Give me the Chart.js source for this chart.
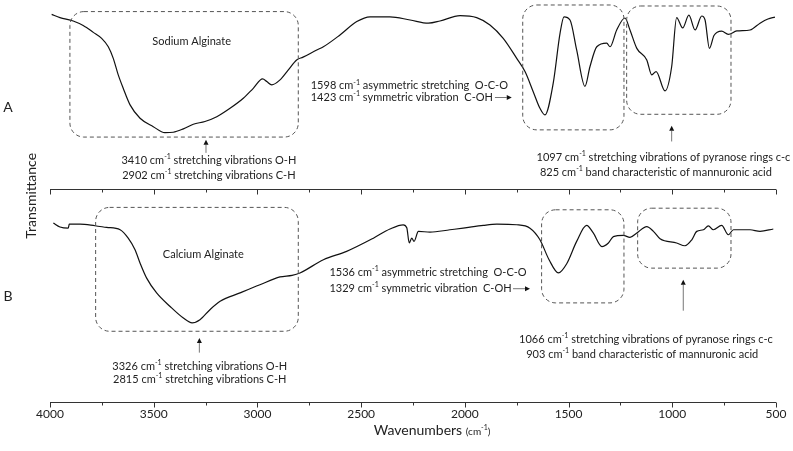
<!DOCTYPE html>
<html>
<head>
<meta charset="utf-8">
<title>FTIR spectra of sodium and calcium alginate</title>
<script src="https://cdn.jsdelivr.net/npm/chart.js@4.4.1/dist/chart.umd.min.js"></script>
<style>
  body { margin: 0; background: #fff; }
  #wrap { width: 793px; height: 451px; }
</style>
</head>
<body>
<div id="wrap"><canvas id="ftirChart" width="793" height="451"></canvas></div>
<script>
// Spectrum A: sodium alginate (wavenumber cm-1, transmittance, arbitrary offset units)
const sodiumWavenumbers = [3992, 3952, 3888, 3840, 3791, 3751, 3719, 3695, 3671, 3647,
  3614, 3566, 3502, 3446, 3406, 3357, 3309, 3253, 3196, 3132,
  3068, 3020, 2975, 2955, 2931, 2891, 2851, 2811, 2780, 2714,
  2682, 2602, 2521, 2457, 2361, 2264, 2176, 2120, 2023, 1943,
  1879, 1815, 1750, 1710, 1670, 1638, 1614, 1574, 1541, 1522,
  1493, 1461, 1421, 1397, 1364, 1316, 1300, 1268, 1228, 1204,
  1171, 1123, 1099, 1078, 1035, 1003, 979, 950, 920, 890,
  858, 842, 821, 799, 762, 730, 689, 625, 577, 539, 505];
const sodiumTransmittance = [96.4, 95.6, 94.75, 93.6, 91.9, 90.4, 88.3, 85.4, 81.25, 77.9,
  73.75, 70.4, 68.3, 66.8, 66.9, 67.75, 68.9, 69.6, 70.8, 72.9,
  75.4, 77.9, 80.25, 79.6, 78.75, 80, 82.5, 85, 85.7, 87.5,
  88.3, 91.25, 94.6, 95.8, 95.8, 95, 94.2, 94.75, 96.1, 95.6,
  93.75, 90.4, 85.4, 82.1, 77, 72.9, 71.25, 79.2, 91.7, 95.8,
  95, 87.5, 78.4, 83.3, 88.3, 89.2, 88.3, 92.5, 95.5, 92.5,
  87.9, 85, 81.25, 82.1, 77.25, 83.3, 95.6, 93, 96.2, 92.5,
  96, 95, 87.9, 91.1, 92.2, 91.4, 92.25, 92.5, 94.2, 95.25, 95.7];

// Spectrum B: calcium alginate
const calciumWavenumbers = [3984, 3952, 3912, 3907, 3855, 3783, 3727, 3662, 3623, 3590,
  3566, 3534, 3486, 3421, 3357, 3315, 3277, 3229, 3180, 3084,
  2988, 2891, 2833, 2795, 2682, 2570, 2441, 2361, 2297, 2280,
  2268, 2256, 2245, 2224, 2168, 2072, 2008, 1911, 1846, 1750,
  1686, 1638, 1594, 1549, 1509, 1461, 1413, 1381, 1339, 1308,
  1284, 1236, 1204, 1171, 1123, 1091, 1059, 979, 939, 906,
  882, 850, 826, 802, 762, 730, 705, 625, 577, 513];
const calciumTransmittance = [44.2, 43.2, 42.9, 43.9, 43.9, 43.5, 43.1, 42.5, 40.4, 37.5,
  34.2, 30.4, 26.7, 23.3, 20.4, 19.2, 20, 22.5, 24.6, 26.7,
  28.75, 30.7, 31.1, 31.7, 35, 37.1, 40.4, 42.7, 43.75, 43,
  39.2, 40.4, 39.6, 42.1, 41.9, 42.5, 42.9, 43.6, 43.9, 43.75,
  42.9, 40, 35, 31.7, 34, 39.6, 43.6, 41.7, 38.3, 39.2,
  40.8, 41.1, 40.6, 41.7, 43.3, 42.1, 40.25, 39.2, 38.5, 40,
  42.1, 42.5, 43.5, 42.5, 43.6, 41.25, 42.5, 42.5, 42.1, 42.7];

// labelled ticks on the wavenumber axis (minor ticks every 250)
const xTickLabels = [4000, 3500, 3000, 2500, 2000, 1500, 1000, 500];

// annotations, all in data units (wavenumber, transmittance)
const middleAxisValue = 52.75;
const bandBoxes = [
  { from: 3904, to: 2803, top: 97.1, bottom: 65.7 },
  { from: 1721, to: 1233, top: 98.75, bottom: 67.5 },
  { from: 1220, to: 717, top: 98.5, bottom: 71.4 },
  { from: 3780, to: 2803, top: 48.1, bottom: 17.1 },
  { from: 1630, to: 1233, top: 47.5, bottom: 24.2 },
  { from: 1167, to: 717, top: 47.9, bottom: 32.9 }
];
const noteLines = [
  { text: 'Sodium Alginate', x: 3317, y: 89.6, align: 'center' },
  { text: '3410 cm-1 stretching vibrations O-H', x: 3234, y: 59.75, align: 'center' },
  { text: '2902 cm-1 stretching vibrations C-H', x: 3234, y: 56.1, align: 'center' },
  { text: '1598 cm-1 asymmetric stretching  O-C-O', x: 2743, y: 78.5, align: 'left' },
  { text: '1423 cm-1 symmetric vibration  C-OH', x: 2743, y: 75.6, align: 'left' },
  { text: '1097 cm-1 stretching vibrations of pyranose rings c-c', x: 1043, y: 60.5, align: 'center' },
  { text: '825 cm-1 band characteristic of mannuronic acid', x: 1079, y: 56.9, align: 'center' },
  { text: 'Calcium Alginate', x: 3261, y: 36.4, align: 'center' },
  { text: '3326 cm-1 stretching vibrations O-H', x: 3278, y: 8.3, align: 'center' },
  { text: '2815 cm-1 stretching vibrations C-H', x: 3278, y: 5, align: 'center' },
  { text: '1536 cm-1 asymmetric stretching  O-C-O', x: 2653, y: 31.8, align: 'left' },
  { text: '1329 cm-1 symmetric vibration  C-OH', x: 2653, y: 27.75, align: 'left' },
  { text: '1066 cm-1 stretching vibrations of pyranose rings c-c', x: 1127, y: 15, align: 'center' },
  { text: '903 cm-1 band characteristic of mannuronic acid', x: 1145, y: 11.25, align: 'center' }
];
const noteArrows = [
  { x1: 3248, y1: 61.75, x2: 3248, y2: 65 },
  { x1: 1855, y1: 75.6, x2: 1774, y2: 75.6 },
  { x1: 1003, y1: 64.6, x2: 1003, y2: 68.5 },
  { x1: 3280, y1: 11.75, x2: 3280, y2: 15.4 },
  { x1: 1768, y1: 27.75, x2: 1686, y2: 27.75 },
  { x1: 947, y1: 22.25, x2: 947, y2: 30 }
];
const panelLabels = [
  { text: 'A', x: 4202, y: 73 },
  { text: 'B', x: 4202, y: 25.75 }
];

const FONT = 'Lato, "Open Sans", sans-serif';

function toPoints(xs, ys) {
  return xs.map((w, i) => ({ x: w, y: ys[i] }));
}

// text with "cm-1" drawn as cm plus a superscript -1
function drawNote(ctx, text, x, y, align, size) {
  const segs = [];
  const parts = text.split('cm-1');
  parts.forEach((p, i) => {
    if (p) segs.push({ t: p, sup: false });
    if (i < parts.length - 1) {
      segs.push({ t: 'cm', sup: false });
      segs.push({ t: '-1', sup: true });
    }
  });
  const supSize = Math.round(size * 0.65);
  let total = 0;
  segs.forEach(s => {
    ctx.font = (s.sup ? supSize : size) + 'px ' + FONT;
    s.w = ctx.measureText(s.t).width;
    total += s.w;
  });
  let cx = align === 'center' ? x - total / 2 : x;
  ctx.textAlign = 'left';
  ctx.textBaseline = 'middle';
  segs.forEach(s => {
    ctx.font = (s.sup ? supSize : size) + 'px ' + FONT;
    ctx.fillText(s.t, cx, s.sup ? y - size * 0.33 : y);
    cx += s.w;
  });
}

function roundBox(ctx, x1, y1, x2, y2, r) {
  const l = Math.min(x1, x2), rt = Math.max(x1, x2);
  const t = Math.min(y1, y2), b = Math.max(y1, y2);
  ctx.beginPath();
  ctx.moveTo(l + r, t);
  ctx.lineTo(rt - r, t);
  ctx.arcTo(rt, t, rt, t + r, r);
  ctx.lineTo(rt, b - r);
  ctx.arcTo(rt, b, rt - r, b, r);
  ctx.lineTo(l + r, b);
  ctx.arcTo(l, b, l, b - r, r);
  ctx.lineTo(l, t + r);
  ctx.arcTo(l, t, l + r, t, r);
  ctx.closePath();
  ctx.stroke();
}

function drawArrow(ctx, x1, y1, x2, y2) {
  const ang = Math.atan2(y2 - y1, x2 - x1);
  const head = 5;
  ctx.strokeStyle = '#777';
  ctx.lineWidth = 1;
  ctx.beginPath();
  ctx.moveTo(x1, y1);
  ctx.lineTo(x2 - Math.cos(ang) * head, y2 - Math.sin(ang) * head);
  ctx.stroke();
  ctx.fillStyle = '#111';
  ctx.beginPath();
  ctx.moveTo(x2, y2);
  ctx.lineTo(x2 - Math.cos(ang) * head - Math.sin(ang) * 2.5, y2 - Math.sin(ang) * head + Math.cos(ang) * 2.5);
  ctx.lineTo(x2 - Math.cos(ang) * head + Math.sin(ang) * 2.5, y2 - Math.sin(ang) * head - Math.cos(ang) * 2.5);
  ctx.closePath();
  ctx.fill();
}

function drawTicks(ctx, xScale, yPix) {
  ctx.strokeStyle = '#333';
  ctx.lineWidth = 1;
  ctx.beginPath();
  ctx.moveTo(xScale.left, yPix);
  ctx.lineTo(xScale.right, yPix);
  xScale.ticks.forEach(t => {
    const px = Math.round(xScale.getPixelForValue(t.value)) + 0.5;
    const len = xTickLabels.includes(t.value) ? 5 : 3;
    ctx.moveTo(px, yPix);
    ctx.lineTo(px, yPix + len);
  });
  ctx.stroke();
}

const ftirAnnotations = {
  id: 'ftirAnnotations',
  afterDraw(chart) {
    const { ctx, chartArea, scales: { x, y } } = chart;
    ctx.save();

    // axis between the two spectra and the bottom axis, same tick layout
    drawTicks(ctx, x, Math.round(y.getPixelForValue(middleAxisValue)) + 0.5);
    drawTicks(ctx, x, Math.round(chartArea.bottom) + 0.5);

    // dashed band boxes
    ctx.strokeStyle = '#555';
    ctx.lineWidth = 1;
    ctx.setLineDash([4, 3]);
    bandBoxes.forEach(b => {
      roundBox(ctx, x.getPixelForValue(b.from), y.getPixelForValue(b.top),
        x.getPixelForValue(b.to), y.getPixelForValue(b.bottom), 14);
    });
    ctx.setLineDash([]);

    // notes
    ctx.fillStyle = '#222';
    noteLines.forEach(n => {
      drawNote(ctx, n.text, x.getPixelForValue(n.x), y.getPixelForValue(n.y), n.align, 11);
    });
    noteArrows.forEach(a => {
      drawArrow(ctx, x.getPixelForValue(a.x1), y.getPixelForValue(a.y1),
        x.getPixelForValue(a.x2), y.getPixelForValue(a.y2));
    });

    // panel labels and axis titles
    ctx.fillStyle = '#222';
    ctx.textAlign = 'center';
    ctx.textBaseline = 'middle';
    ctx.font = '14px ' + FONT;
    panelLabels.forEach(p => {
      ctx.fillText(p.text, x.getPixelForValue(p.x), y.getPixelForValue(p.y));
    });
    ctx.save();
    ctx.translate(x.getPixelForValue(4087), y.getPixelForValue(51));
    ctx.rotate(-Math.PI / 2);
    ctx.font = '14px ' + FONT;
    ctx.fillText('Transmittance', 0, 0);
    ctx.restore();

    // x title: "Wavenumbers (cm-1)" with smaller unit
    const tx = x.getPixelForValue(2158);
    const ty = chartArea.bottom + 29;
    ctx.font = '14px ' + FONT;
    const w1 = ctx.measureText('Wavenumbers ').width;
    ctx.font = '10px ' + FONT;
    const w2 = ctx.measureText('(cm').width;
    ctx.font = '7px ' + FONT;
    const w3 = ctx.measureText('-1').width;
    ctx.font = '10px ' + FONT;
    const w4 = ctx.measureText(')').width;
    let cx = tx - (w1 + w2 + w3 + w4) / 2;
    ctx.textAlign = 'left';
    ctx.font = '14px ' + FONT;
    ctx.fillText('Wavenumbers ', cx, ty);
    cx += w1;
    ctx.font = '10px ' + FONT;
    ctx.fillText('(cm', cx, ty + 1);
    cx += w2;
    ctx.font = '7px ' + FONT;
    ctx.fillText('-1', cx, ty - 3);
    cx += w3;
    ctx.font = '10px ' + FONT;
    ctx.fillText(')', cx, ty + 1);

    ctx.restore();
  }
};

const ctx = document.getElementById('ftirChart').getContext('2d');
const ftirChart = new Chart(ctx, {
  type: 'line',
  data: {
    datasets: [
      {
        label: 'Sodium Alginate',
        data: toPoints(sodiumWavenumbers, sodiumTransmittance),
        borderColor: '#111',
        borderWidth: 1.2,
        pointRadius: 0,
        cubicInterpolationMode: 'monotone',
        fill: false,
        clip: false
      },
      {
        label: 'Calcium Alginate',
        data: toPoints(calciumWavenumbers, calciumTransmittance),
        borderColor: '#111',
        borderWidth: 1.2,
        pointRadius: 0,
        cubicInterpolationMode: 'monotone',
        fill: false,
        clip: false
      }
    ]
  },
  options: {
    responsive: false,
    animation: false,
    devicePixelRatio: 1,
    layout: { padding: { left: 50, right: 17, top: 0, bottom: 30 } },
    plugins: {
      legend: { display: false },
      tooltip: { enabled: false }
    },
    scales: {
      x: {
        type: 'linear',
        reverse: true,
        min: 500,
        max: 4000,
        border: { display: false },
        grid: { display: true, drawOnChartArea: false, color: 'rgba(0,0,0,0)', tickLength: 5 },
        ticks: {
          stepSize: 250,
          autoSkip: false,
          maxRotation: 0,
          padding: 0,
          color: '#222',
          font: { family: FONT, size: 12 },
          callback: v => xTickLabels.includes(v) ? String(v) : ''
        }
      },
      y: {
        display: false,
        min: -0.5,
        max: 100
      }
    }
  },
  plugins: [ftirAnnotations]
});
</script>
</body>
</html>
